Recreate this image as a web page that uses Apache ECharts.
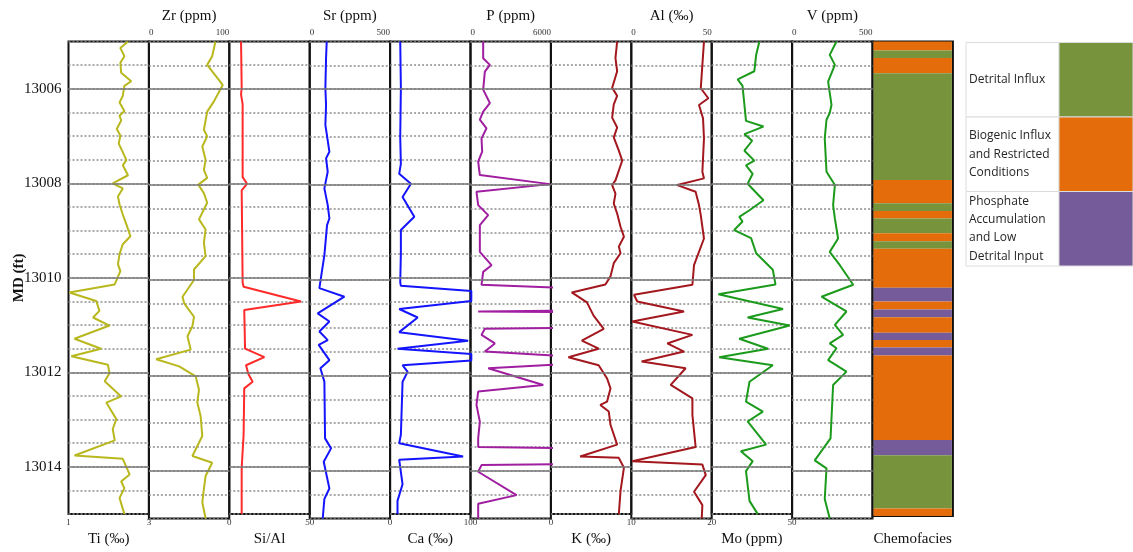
<!DOCTYPE html>
<html>
<head>
<meta charset="utf-8">
<script src="https://cdn.jsdelivr.net/npm/echarts@6/dist/echarts.min.js"></script>
<style>
html,body{margin:0;padding:0;background:#fff;}
#chart{width:1133px;height:552px;}
</style>
</head>
<body>
<div id="chart"></div>
<script>
// ---------- DATA ([depth ft, value]) ----------
const depthMin = 13005, depthMax = 13015;
const solidDepths = [13006, 13008, 13010, 13012, 13014];

const TI = [[13005.00,2.48],[13005.14,2.29],[13005.31,2.39],[13005.45,2.29],[13005.66,2.31],[13005.84,2.56],[13005.94,2.39],[13006.15,2.35],[13006.29,2.27],[13006.47,2.39],[13006.57,2.27],[13006.67,2.31],[13006.85,2.20],[13006.99,2.29],[13007.16,2.25],[13007.34,2.35],[13007.51,2.44],[13007.62,2.35],[13007.83,2.48],[13008.00,2.10],[13008.11,2.35],[13008.28,2.23],[13008.45,2.27],[13008.66,2.35],[13008.87,2.44],[13009.12,2.54],[13009.29,2.35],[13009.50,2.27],[13009.71,2.23],[13009.86,2.29],[13010.14,2.15],[13010.31,1.02],[13010.49,1.69],[13010.70,1.77],[13010.84,1.61],[13011.01,2.02],[13011.29,1.15],[13011.50,1.81],[13011.66,1.07],[13011.84,1.98],[13012.02,2.02],[13012.19,1.90],[13012.51,2.31],[13012.64,1.94],[13012.99,2.19],[13013.20,2.10],[13013.44,2.15],[13013.76,1.15],[13013.83,2.35],[13014.16,2.52],[13014.31,2.31],[13014.45,2.39],[13014.66,2.27],[13015.00,2.39]];

const ZR = [[13005.00,82.8],[13005.31,78.7],[13005.49,72.5],[13005.91,91.8],[13006.26,80.7],[13006.47,72.5],[13006.85,68.4],[13006.99,72.5],[13007.20,66.4],[13007.48,70.5],[13007.69,68.4],[13007.86,72.5],[13008.00,61.5],[13008.18,68.4],[13008.38,72.5],[13008.73,62.3],[13008.94,70.5],[13009.22,68.4],[13009.50,70.5],[13009.78,56.1],[13010.00,56.1],[13010.35,41.8],[13010.49,43.9],[13010.77,56.1],[13010.97,54.1],[13011.18,48.0],[13011.46,52.0],[13011.66,9.0],[13011.81,37.7],[13012.02,58.2],[13012.30,62.3],[13012.57,60.2],[13012.85,64.3],[13013.27,66.4],[13013.69,54.1],[13013.83,78.7],[13014.11,70.5],[13014.38,68.4],[13014.66,66.4],[13015.00,70.5]];

const SIAL = [[13005.00,7.3],[13005.98,7.7],[13006.12,7.3],[13006.33,8.3],[13007.87,8.3],[13008.01,11.0],[13008.15,7.7],[13010.10,8.3],[13010.19,8.9],[13010.50,44.6],[13010.68,9.3],[13011.50,9.8],[13011.68,21.8],[13011.85,10.4],[13012.03,11.8],[13012.20,14.5],[13012.34,9.3],[13013.32,8.9],[13014.02,7.7],[13015.00,7.7]];

const SR = [[13005.00,105.8],[13005.35,101.7],[13005.98,97.5],[13006.33,101.7],[13006.75,97.5],[13007.31,122.4],[13007.45,101.7],[13007.73,112],[13008.08,91.3],[13008.43,112],[13008.71,122.4],[13008.85,107.9],[13009.48,91.3],[13010.17,60.2],[13010.35,215.8],[13010.70,49.8],[13010.87,122.4],[13011.08,60.2],[13011.26,112],[13011.36,56],[13011.68,122.4],[13011.85,66.4],[13012.13,91.3],[13013.32,95.5],[13013.53,132.8],[13013.81,87.2],[13014.37,122.4],[13014.59,91.3],[13015.00,80.9]];

const CA = [[13005.00,12.6],[13005.98,13.4],[13007.03,12.6],[13007.59,13.4],[13007.80,11.3],[13008.01,25.9],[13008.29,15.5],[13008.71,30.1],[13008.99,13.4],[13009.48,13.4],[13010.10,12.6],[13010.17,13.4],[13010.28,101],[13010.49,101],[13010.66,11.3],[13010.84,34.3],[13011.15,11.3],[13011.33,97.1],[13011.50,9.2],[13011.61,101],[13011.75,101],[13011.85,15.5],[13011.99,21.8],[13012.20,15.5],[13013.32,13.4],[13013.50,11.3],[13013.78,90.8],[13013.85,11.3],[13014.37,15.5],[13014.72,9.2],[13015.00,9.2]];

const P = [[13005.00,946],[13005.35,946],[13005.49,1444],[13005.63,1071],[13006.01,946],[13006.29,1444],[13006.47,946],[13006.64,697],[13006.82,1195],[13007.03,822],[13007.31,871],[13007.52,573],[13007.80,697],[13007.99,5926],[13008.15,448],[13008.43,573],[13008.64,1320],[13008.85,697],[13009.41,697],[13009.69,1569],[13009.83,946],[13010.10,822],[13010.19,9000],[13010.64,9000],[13010.66,573],[13010.68,9000],[13011.00,9000],[13011.02,1071],[13011.15,822],[13011.33,1818],[13011.50,1071],[13011.61,8000],[13011.75,8000],[13011.85,1320],[13012.20,5428],[13012.34,573],[13012.62,448],[13012.97,697],[13013.32,573],[13013.50,573],[13013.53,9000],[13013.85,9000],[13013.88,822],[13014.02,573],[13014.51,3436],[13014.69,573],[13015.00,573]];

const K = [[13005.00,8.24],[13005.35,8.03],[13005.63,8.24],[13005.98,7.62],[13006.15,8.24],[13006.33,7.82],[13006.61,7.62],[13006.82,8.24],[13007.03,7.82],[13007.31,8.45],[13007.52,8.87],[13007.73,8.45],[13007.94,8.03],[13008.04,7.62],[13008.22,8.03],[13008.43,7.82],[13008.64,8.24],[13008.92,8.66],[13009.13,9.08],[13009.34,8.45],[13009.48,8.66],[13009.69,7.82],[13009.97,7.41],[13010.14,6.78],[13010.31,2.59],[13010.52,4.48],[13010.80,5.31],[13011.08,6.57],[13011.33,3.85],[13011.50,5.94],[13011.68,2.18],[13011.85,5.94],[13012.13,6.99],[13012.34,7.41],[13012.62,6.99],[13012.69,6.15],[13012.83,7.20],[13013.11,7.41],[13013.53,8.24],[13013.78,3.64],[13013.81,8.45],[13014.02,9.08],[13014.51,8.66],[13015.00,8.45]];

const AL = [[13005.00,45.2],[13005.49,44.2],[13005.98,43.2],[13006.19,47.9],[13006.33,42.1],[13006.61,44.6],[13007.03,45.2],[13007.73,44.2],[13007.87,45.2],[13008.01,28.6],[13008.15,40.0],[13008.43,42.1],[13008.64,43.2],[13009.13,45.2],[13009.69,39.0],[13010.10,38.0],[13010.31,1.7],[13010.45,3.7],[13010.66,32.8],[13010.87,0.6],[13011.15,38.0],[13011.33,22.4],[13011.50,32.8],[13011.71,6.4],[13011.85,33.8],[13012.20,24.5],[13012.48,38.0],[13012.83,38.0],[13013.50,40.0],[13013.80,0.6],[13013.87,44.2],[13014.09,46.3],[13014.44,39.0],[13014.72,44.2],[13015.00,43.8]];

const MO = [[13005.00,37.8],[13005.28,36.6],[13005.63,35.9],[13005.80,29.7],[13005.94,31.5],[13006.68,32.8],[13006.80,39.3],[13006.96,32.2],[13007.10,35.1],[13007.31,32.2],[13007.52,35.9],[13007.62,32.8],[13007.80,35.3],[13008.01,33.4],[13008.36,39.3],[13008.57,34.1],[13008.71,30.3],[13008.81,31.5],[13008.99,28.4],[13009.16,34.7],[13009.48,36.6],[13009.83,42.8],[13010.14,43.8],[13010.35,22.5],[13010.66,46.6],[13010.84,33.4],[13011.01,49.1],[13011.29,30.3],[13011.50,41.0],[13011.68,22.8],[13011.85,42.8],[13012.20,34.1],[13012.62,32.8],[13012.83,39.1],[13013.04,33.4],[13013.53,40.3],[13013.67,30.9],[13013.88,35.3],[13014.09,32.8],[13014.72,34.1],[13015.00,37.2]];

const V = [[13005.00,276],[13005.28,234],[13005.49,266],[13005.84,224],[13006.33,245],[13006.50,234],[13006.64,214],[13007.03,203],[13007.73,214],[13008.01,266],[13008.43,255],[13008.71,266],[13009.13,286],[13009.41,234],[13009.69,297],[13010.10,380],[13010.35,183],[13010.66,338],[13010.94,266],[13011.15,317],[13011.33,234],[13011.43,276],[13011.68,224],[13011.92,338],[13012.20,255],[13013.32,239],[13013.78,141],[13013.95,214],[13014.59,203],[13015.00,234]];

// Chemofacies intervals
const faciesTop    = [13005.00,13005.19,13005.35,13005.67,13007.92,13008.41,13008.57,13008.73,13009.04,13009.21,13009.37,13010.19,13010.48,13010.65,13010.81,13011.14,13011.29,13011.45,13011.62,13013.40,13013.72,13014.84];
const faciesBottom = [13005.19,13005.35,13005.67,13007.92,13008.41,13008.57,13008.73,13009.04,13009.21,13009.37,13010.19,13010.48,13010.65,13010.81,13011.14,13011.29,13011.45,13011.62,13013.40,13013.72,13014.84,13015.00];
const faciesType   = [1,0,1,0,1,0,1,0,1,0,1,2,1,2,1,2,1,2,1,2,0,1];
const faciesNames  = ['Detrital Influx', 'Biogenic Influx\nand Restricted\nConditions', 'Phosphate\nAccumulation\nand Low\nDetrital Input'];
const faciesColors = ['#77933C', '#E46C0A', '#765B9B'];

// Track definitions
const trackNames  = ['Ti (‰)', 'Zr (ppm)', 'Si/Al', 'Sr (ppm)', 'Ca (‰)', 'P (ppm)', 'K (‰)', 'Al (‰)', 'Mo (ppm)', 'V (ppm)'];
const trackData   = [TI, ZR, SIAL, SR, CA, P, K, AL, MO, V];
const trackMin    = [1, 0, 0, 0, 0, 0, 0, 0, 20, 0];
const trackMax    = [3, 100, 50, 500, 100, 6000, 10, 50, 50, 500];
const trackColors = ['#B8B81E', '#B8B81E', '#FF2A2A', '#1414FF', '#1414FF', '#A01FA0', '#A3181E', '#A3181E', '#1C9A1C', '#1C9A1C'];
const trackTop    = [false, true, false, true, false, true, false, true, false, true];

// ---------- LAYOUT ----------
const plotTop = 41.5, plotH = 477, left0 = 68.5, trackW = 80.4;
const serif = 'Liberation Serif';

const grids = [], xAxes = [], yAxes = [], series = [];
for (let i = 0; i < 11; i++) {
  grids.push({left: left0 + trackW * i, top: plotTop, width: trackW, height: plotH,
    show: true, borderColor: '#111', borderWidth: 2, backgroundColor: 'transparent'});
  yAxes.push({
    gridIndex: i, type: 'value', inverse: true, min: depthMin, max: depthMax, interval: 0.5,
    axisLine: {show: false}, axisTick: {show: false},
    splitLine: {show: i < 10, lineStyle: {color: '#8c8c8c', width: 1.5, type: [2, 2]}},
    axisLabel: i === 0 ? {
      show: true, fontFamily: serif, fontSize: 15, color: '#111', margin: 7,
      formatter: v => solidDepths.some(d => Math.abs(d - v) < 1e-6) ? String(v) : ''
    } : {show: false},
    name: i === 0 ? 'MD (ft)' : '', nameLocation: 'middle', nameRotate: 90, nameGap: 42,
    nameMoveOverlap: false,
    nameTextStyle: {fontFamily: serif, fontSize: 15, fontWeight: 'bold', color: '#111'}
  });
}
for (let i = 0; i < 10; i++) {
  const top = trackTop[i];
  xAxes.push({
    gridIndex: i, type: 'value', min: trackMin[i], max: trackMax[i], position: top ? 'top' : 'bottom',
    name: trackNames[i], nameLocation: 'middle', nameGap: top ? 13 : 16,
    nameTextStyle: {fontFamily: serif, fontSize: 15, color: '#111'},
    axisLine: {show: false}, axisTick: {show: false}, splitLine: {show: false},
    axisLabel: {customValues: [trackMin[i], trackMax[i]], fontFamily: serif, fontSize: 9, color: '#333', margin: 4,
      formatter: v => String(v),
      alignMinLabel: top ? 'left' : 'center', alignMaxLabel: top ? 'right' : 'center'}
  });
  // solid depth grid lines every 2 ft
  series.push({
    type: 'line', xAxisIndex: i, yAxisIndex: i, z: 1, silent: true,
    data: [[trackMin[i], depthMin]], showSymbol: false, lineStyle: {width: 0},
    markLine: {silent: true, symbol: ['none', 'none'], label: {show: false}, animation: false,
      lineStyle: {color: '#7a7a7a', width: 1.5, type: 'solid'},
      data: solidDepths.map(d => ({yAxis: d}))}
  });
  series.push({
    type: 'line', xAxisIndex: i, yAxisIndex: i, z: 3, clip: true,
    data: trackData[i].map(p => [p[1], p[0]]),
    showSymbol: false, symbol: 'none', smooth: false, animation: false,
    lineStyle: {color: trackColors[i], width: 2}
  });
}
// chemofacies track
xAxes.push({
  gridIndex: 10, type: 'value', min: 0, max: 1, position: 'bottom',
  name: 'Chemofacies', nameLocation: 'middle', nameGap: 16,
  nameTextStyle: {fontFamily: serif, fontSize: 15, color: '#111'},
  axisLine: {show: false}, axisTick: {show: false}, splitLine: {show: false}, axisLabel: {show: false}
});
series.push({
  type: 'custom', xAxisIndex: 10, yAxisIndex: 10, z: 2, animation: false,
  data: faciesTop.map((t, i) => [t, faciesBottom[i], faciesType[i]]),
  encode: {y: [0, 1]},
  renderItem: (params, api) => {
    const p1 = api.coord([0, api.value(0)]);
    const p2 = api.coord([1, api.value(1)]);
    return {type: 'rect', shape: {x: p1[0] + 1, y: p1[1], width: p2[0] - p1[0] - 2, height: p2[1] - p1[1]},
      style: {fill: faciesColors[api.value(2)]}};
  }
});

// ---------- LEGEND TABLE ----------
const lgLeft = 966, lgMid = 1059, lgRight = 1133, lgTop = 42.5, lgRowH = 74.5;
const graphic = [];
faciesNames.forEach((name, i) => {
  const y = lgTop + lgRowH * i;
  graphic.push({type: 'rect', shape: {x: lgLeft, y: y, width: lgMid - lgLeft, height: lgRowH},
    style: {fill: '#fff', stroke: '#dcdcdc', lineWidth: 1}});
  graphic.push({type: 'rect', shape: {x: lgMid, y: y, width: lgRight - lgMid, height: lgRowH},
    style: {fill: faciesColors[i], stroke: '#dcdcdc', lineWidth: 1}});
  graphic.push({type: 'text', x: lgLeft + 3, y: y + lgRowH / 2,
    style: {text: name, fontFamily: 'Open Sans', fontSize: 12, fill: '#262626', lineHeight: 18.4,
      verticalAlign: 'middle', align: 'left'}});
});

const chart = echarts.init(document.getElementById('chart'), null, {renderer: 'canvas'});
chart.setOption({
  backgroundColor: '#fff',
  animation: false,
  grid: grids, xAxis: xAxes, yAxis: yAxes, series: series, graphic: graphic
});
</script>
</body>
</html>
